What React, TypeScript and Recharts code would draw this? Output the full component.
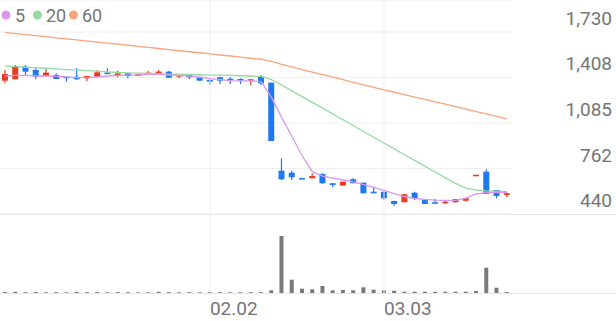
import React from 'react'
import { ComposedChart, Bar, Line, XAxis, YAxis, CartesianGrid, ReferenceLine } from 'recharts'

// daily candles
const opens = [
  1385, 1395, 1484, 1461, 1418, 1425, 1413, 1413, 1402, 1413,
  1442, 1420, 1437, 1418, 1432, 1432, 1449, 1418, 1425, 1406,
  1390, 1409, 1399, 1397, 1385, 1413, 1371, 747, 733, 695,
  693, 724, 658, 641, 686, 662, 598, 598, 532, 523,
  591, 539, 523, 516, 523, 534, 714, 740, 610, 575,
]
const closes = [
  1432, 1489, 1449, 1413, 1442, 1397, 1406, 1395, 1418, 1444,
  1432, 1437, 1418, 1430, 1442, 1449, 1406, 1425, 1409, 1385,
  1378, 1385, 1395, 1393, 1395, 1366, 957, 686, 700, 691,
  709, 658, 646, 669, 658, 587, 587, 551, 511, 580,
  551, 511, 516, 527, 546, 551, 718, 582, 568, 587,
]
const highs = [
  1461, 1496, 1496, 1473, 1473, 1437, 1413, 1473, 1418, 1461,
  1473, 1456, 1437, 1430, 1454, 1461, 1454, 1425, 1432, 1409,
  1402, 1413, 1409, 1402, 1395, 1425, 1371, 835, 747, 697,
  728, 728, 658, 669, 693, 662, 633, 598, 534, 580,
  598, 546, 546, 534, 546, 556, 718, 757, 610, 598,
]
const lows = [
  1366, 1395, 1425, 1395, 1418, 1397, 1378, 1390, 1383, 1413,
  1432, 1409, 1402, 1418, 1425, 1425, 1406, 1402, 1397, 1385,
  1354, 1361, 1361, 1361, 1354, 1354, 957, 681, 681, 688,
  693, 653, 629, 641, 658, 587, 587, 539, 497, 523,
  539, 511, 516, 511, 523, 527, 714, 582, 551, 558,
]
const volumes = [
  9000, 12000, 8000, 9000, 7000, 8000, 7000, 11000, 8000, 9000,
  7000, 8000, 7000, 6000, 7000, 12000, 9000, 7000, 8000, 7000,
  10000, 8000, 7000, 7000, 8000, 8000, 27000, 570000, 133000, 43000,
  37000, 70000, 27000, 30000, 27000, 57000, 33000, 27000, 23000, 13000,
  13000, 13000, 12000, 12000, 13000, 13000, 20000, 253000, 53000, 10000,
]
const ma5 = [
  1418, 1422, 1422, 1418, 1418, 1415, 1411, 1407, 1407, 1411,
  1418, 1422, 1425, 1425, 1429, 1429, 1425, 1422, 1418, 1411,
  1400, 1393, 1386, 1383, 1383, 1379, 1268, 1125, 991, 853,
  740, 709, 695, 681, 667, 649, 628, 607, 585, 564,
  550, 543, 538, 536, 536, 553, 582, 592, 594, 594,
]
const ma20 = [
  1489, 1485, 1480, 1477, 1473, 1468, 1464, 1461, 1456, 1452,
  1448, 1443, 1440, 1438, 1436, 1434, 1432, 1431, 1429, 1427,
  1425, 1424, 1422, 1420, 1418, 1415, 1393, 1354, 1313, 1272,
  1231, 1190, 1149, 1108, 1067, 1025, 984, 943, 902, 860,
  820, 778, 738, 696, 657, 624, 610, 604, 602, 598,
]
const ma60 = [
  1727, 1719, 1712, 1704, 1697, 1689, 1682, 1674, 1666, 1658,
  1651, 1644, 1636, 1628, 1621, 1613, 1605, 1597, 1590, 1583,
  1575, 1567, 1560, 1552, 1544, 1537, 1521, 1500, 1482, 1464,
  1446, 1428, 1410, 1392, 1373, 1355, 1337, 1319, 1303, 1286,
  1269, 1252, 1235, 1218, 1201, 1183, 1166, 1149, 1132, 1115,
]
const priceTicks = [440, 762, 1085, 1408, 1730]
const dateLabels: Record<number, string> = { 20: '02.02', 37: '03.03' }

const UP = '#eb3a20'
const DOWN = '#1e78ef'
const MA5_COLOR = '#d898ec'
const MA20_COLOR = '#95dba2'
const MA60_COLOR = '#f7a47f'
const GRID = '#efefef'
const TEXT = '#757575'
const FONT = 'Roboto, sans-serif'

// top tick sits 32px below the top of the chart, so stretch the domain upward
const PRICE_TOP = 1730 + ((1730 - 440) * 32) / 182

const rows = opens.map((open, i) => ({
  i,
  open,
  close: closes[i],
  high: highs[i],
  low: lows[i],
  range: [lows[i], highs[i]],
  volume: volumes[i],
  ma5: ma5[i],
  ma20: ma20[i],
  ma60: ma60[i],
}))

function Candle(props: any) {
  const { x, y, width, height, payload } = props
  const { open, close, high, low } = payload
  const color = close >= open ? UP : DOWN
  const top = Math.min(y, y + height)
  const h = Math.abs(height)
  const k = high > low ? h / (high - low) : 0
  const bodyTop = top + (high - Math.max(open, close)) * k
  const bodyH = Math.max(Math.abs(open - close) * k, 1.5)
  const cx = x + width / 2
  return (
    <g>
      <line x1={cx} x2={cx} y1={top} y2={top + h} stroke={color} strokeWidth={1.2} />
      <rect x={x} y={bodyTop} width={width} height={bodyH} fill={color} />
    </g>
  )
}

function PriceTick({ y, payload }: any) {
  return (
    <text x={612} y={y - 7} textAnchor="end" fontSize={19} fontFamily={FONT} fill={TEXT}>
      {payload.value.toLocaleString('en-US')}
    </text>
  )
}

function DateTick({ x, y, payload }: any) {
  const label = dateLabels[payload.value]
  if (!label) return <g />
  return (
    <text x={x} y={y + 14} textAnchor="start" fontSize={19} fontFamily={FONT} fill={TEXT}>
      {label}
    </text>
  )
}

export default function App() {
  return (
    <div style={{ position: 'absolute', left: 0, top: 0, width: 616, height: 321, background: '#fff' }}>
      <ComposedChart width={616} height={216} data={rows} margin={{ top: 0, right: 0, bottom: 2, left: 0 }}>
        <CartesianGrid stroke={GRID} vertical={false} />
        <XAxis dataKey="i" type="category" hide />
        <YAxis
          orientation="right"
          type="number"
          width={104}
          domain={[440, PRICE_TOP]}
          ticks={priceTicks}
          interval={0}
          allowDataOverflow
          axisLine={false}
          tickLine={false}
          tick={PriceTick}
        />
        <ReferenceLine x={20} stroke={GRID} />
        <ReferenceLine x={37} stroke={GRID} />
        <Line dataKey="ma60" stroke={MA60_COLOR} strokeWidth={1.3} dot={false} isAnimationActive={false} />
        <Line dataKey="ma20" stroke={MA20_COLOR} strokeWidth={1.3} dot={false} isAnimationActive={false} />
        <Line dataKey="ma5" stroke={MA5_COLOR} strokeWidth={1.3} dot={false} isAnimationActive={false} />
        <Bar dataKey="range" barSize={6} shape={<Candle />} isAnimationActive={false} />
      </ComposedChart>

      <div style={{ position: 'absolute', left: 0, top: 214, width: 616, height: 1, background: '#e6e6e6' }} />

      <div style={{ position: 'absolute', left: 0, top: 214 }}>
        <ComposedChart width={616} height={107} data={rows} margin={{ top: 0, right: 104, bottom: 0, left: 0 }}>
          <XAxis
            dataKey="i"
            type="category"
            interval={0}
            height={28}
            axisLine={false}
            tickLine={false}
            tick={DateTick}
          />
          <YAxis hide domain={[0, 790000]} />
          <ReferenceLine x={20} stroke={GRID} />
          <ReferenceLine x={37} stroke={GRID} />
          <Bar dataKey="volume" barSize={4} fill="#7a7a7a" isAnimationActive={false} />
        </ComposedChart>
      </div>

      <div style={{ position: 'absolute', left: 0, top: 293, width: 616, height: 1, background: '#e6e6e6' }} />

      <svg width={120} height={30} style={{ position: 'absolute', left: 0, top: 0 }}>
        <circle cx={6} cy={15} r={4.5} fill={MA5_COLOR} />
        <text x={15} y={22} fontSize={18} fontFamily={FONT} fill={TEXT}>5</text>
        <circle cx={37.5} cy={15} r={4.5} fill={MA20_COLOR} />
        <text x={46} y={22} fontSize={18} fontFamily={FONT} fill={TEXT}>20</text>
        <circle cx={73.5} cy={15} r={4.5} fill={MA60_COLOR} />
        <text x={82} y={22} fontSize={18} fontFamily={FONT} fill={TEXT}>60</text>
      </svg>
    </div>
  )
}
